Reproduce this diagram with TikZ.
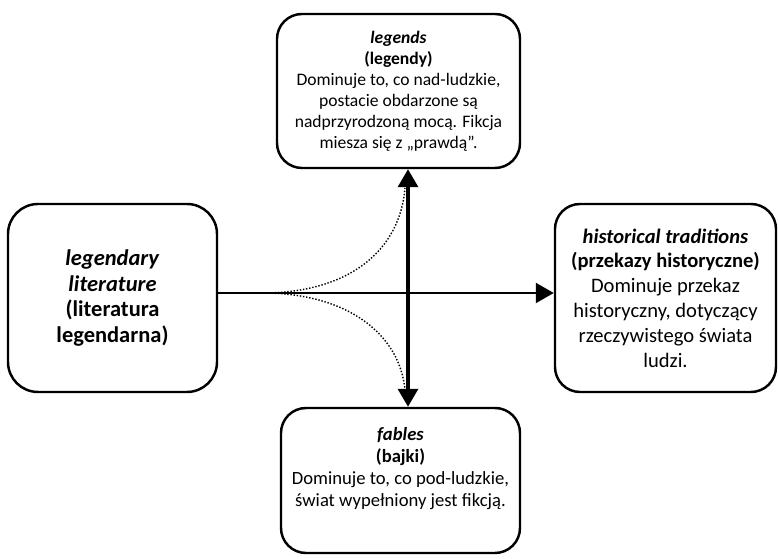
\documentclass[tikz,border=0pt]{standalone}
\usepackage{fontspec}
\setmainfont{Carlito}
\usetikzlibrary{arrows.meta}

\tikzset{
  box/.style={draw, line width=1.4pt, rounded corners=0.5cm, align=center, inner sep=2pt},
  bigtri/.tip={Triangle[width=0.4cm,length=0.36cm]},
}

\begin{document}
\begin{tikzpicture}
	\useasboundingbox (0,0) rectangle (15.56,11.18);
	% the four boxes
	\node[box, minimum width=4.86cm, minimum height=3.08cm, font=\fontsize{10}{11.9}\selectfont] (legends) at (7.97,9.36)
		{\textbf{\textit{legends}}\\ \textbf{(legendy)}\\ Dominuje to, co nad-ludzkie,\\ postacie obdarzone są\\ nadprzyrodzoną mocą. Fikcja\\ miesza się z „prawdą”.};
	\node[box, rounded corners=0.6cm, minimum width=4.18cm, minimum height=3.76cm, font=\fontsize{12.8}{14.6}\selectfont] (literature) at (2.25,5.22)
		{\textbf{\textit{legendary}}\\ \textbf{\textit{literature}}\\ \textbf{(literatura}\\ \textbf{legendarna)}};
	\node[box, minimum width=4.42cm, minimum height=3.76cm, font=\fontsize{11.7}{14.1}\selectfont] (traditions) at (13.31,5.22)
		{\textbf{\textit{historical traditions}}\\ \textbf{(przekazy historyczne)}\\ Dominuje przekaz\\ historyczny, dotyczący\\ rzeczywistego świata\\ ludzi.};
	\node[box, minimum width=4.78cm, minimum height=2.90cm, font=\fontsize{10.6}{12.4}\selectfont] (fables) at (8.01,1.57)
		{\textbf{\textit{fables}}\\ \textbf{(bajki)}\\ Dominuje to, co pod-ludzkie,\\ świat wypełniony jest fikcją.\\[0.1cm]};

	% connectors
	\coordinate (hub) at (8.16,5.32);
	\coordinate (split) at (5.24,5.32);
	\coordinate (upend) at (8.10,7.42);
	\coordinate (downend) at (8.10,3.38);
	\draw[line width=1.3pt, -bigtri] (literature.east |- hub) -- (traditions.west |- hub);
	\draw[line width=2pt, bigtri-bigtri] (legends.south -| hub) -- (fables.north -| hub);
	\draw[densely dotted, line width=0.8pt] (split) .. controls (7.00,5.32) and (8.00,6.18) .. (upend);
	\draw[densely dotted, line width=0.8pt] (split) .. controls (7.00,5.32) and (8.00,4.46) .. (downend);
\end{tikzpicture}
\end{document}
